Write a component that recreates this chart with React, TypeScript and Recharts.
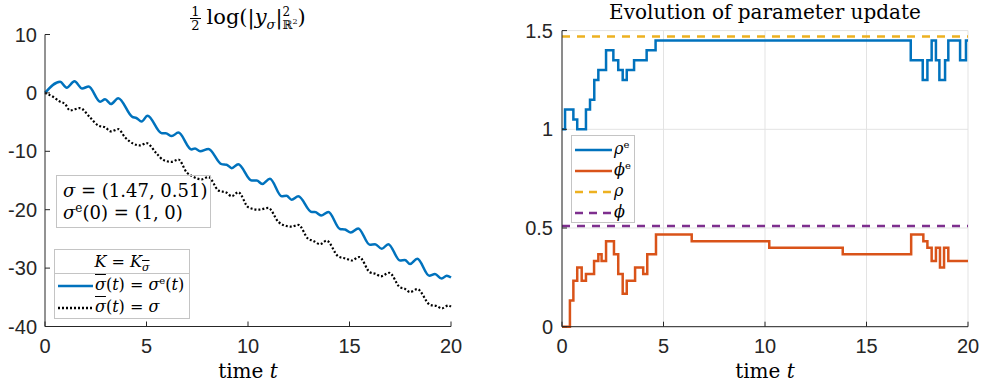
import { CartesianGrid, Line, LineChart, ReferenceLine, XAxis, YAxis } from "recharts";

// left panel: 1/2 log|y_sigma|^2 over time
const blueT = [0, 0.74, 1.07, 1.45, 1.83, 2.15, 2.72, 2.96, 3.25, 3.61, 4.3, 4.5, 4.76, 5.05, 5.75, 5.95, 6.24, 6.57, 7.22, 7.39, 7.64, 8.05, 8.7, 8.95, 9.2, 9.52, 10.18, 10.43, 10.7, 11.08, 11.66, 11.9, 12.15, 12.48, 13.14, 13.3, 13.6, 13.96, 14.53, 14.78, 15.06, 15.43, 16.0, 16.26, 16.59, 16.91, 17.49, 17.73, 17.98, 18.34, 18.93, 19.21, 19.54, 19.79, 20];
const blueY = [0, 1.9, 0.9, 2.0, 0.75, 1.1, -1.5, -1.1, -1.9, -0.9, -4.1, -4.3, -4.9, -3.9, -6.9, -6.9, -7.4, -6.8, -9.7, -9.5, -10.0, -9.6, -12.2, -12.3, -12.9, -12.2, -15.0, -15.0, -15.6, -14.7, -17.7, -17.6, -18.3, -17.7, -20.4, -20.4, -21.0, -20.4, -23.3, -23.4, -23.9, -23.2, -26.0, -25.9, -26.7, -25.9, -28.7, -28.6, -29.3, -28.4, -31.3, -31.0, -31.8, -31.3, -31.6];
const blackT = [0, 0.41, 0.74, 0.99, 1.23, 1.72, 2.22, 2.63, 2.96, 3.25, 3.61, 3.94, 4.35, 4.68, 5.0, 5.5, 5.83, 6.24, 6.57, 6.98, 7.22, 7.72, 8.05, 8.54, 8.95, 9.2, 9.52, 10.02, 10.51, 11.0, 11.5, 11.9, 12.15, 12.48, 12.97, 13.2, 13.55, 13.87, 14.45, 14.86, 15.1, 15.48, 16.0, 16.3, 16.55, 16.96, 17.49, 17.7, 17.98, 18.34, 18.97, 19.3, 19.54, 19.87, 20];
const blackY = [0, -0.7, -1.5, -1.9, -3.0, -2.6, -4.2, -5.6, -5.9, -6.6, -6.2, -7.6, -8.7, -9.0, -8.6, -10.4, -11.5, -11.8, -11.4, -13.6, -14.2, -14.8, -14.4, -16.7, -17.1, -17.7, -17.0, -19.6, -20.0, -19.7, -22.1, -22.8, -22.9, -22.6, -25.0, -25.3, -25.9, -25.3, -28.0, -28.4, -28.7, -28.1, -30.7, -31.0, -31.4, -30.8, -33.3, -33.5, -34.1, -33.6, -36.3, -36.5, -36.9, -36.4, -36.6];
const leftYTicks = [-40, -30, -20, -10, 0, 10];

// right panel: piecewise constant parameter estimates
const rhoT = [0, 0.15, 0.56, 0.75, 1.18, 1.38, 1.59, 1.79, 2.17, 2.53, 2.77, 2.99, 3.19, 3.55, 4.17, 4.61, 17.18, 17.77, 18.0, 18.21, 18.42, 18.59, 18.87, 19.03, 19.61, 19.9, 20];
const rhoV = [1.0, 1.1, 1.05, 1.0, 1.1, 1.15, 1.25, 1.3, 1.4, 1.35, 1.3, 1.25, 1.3, 1.35, 1.4, 1.45, 1.35, 1.25, 1.35, 1.45, 1.35, 1.25, 1.35, 1.45, 1.35, 1.45, 1.45];
const phiT = [0, 0.39, 0.56, 0.75, 0.97, 1.18, 1.58, 1.79, 1.95, 2.17, 2.56, 2.77, 2.99, 3.19, 3.6, 4.0, 4.2, 4.63, 6.39, 10.21, 13.83, 17.2, 17.8, 18.0, 18.21, 18.42, 18.62, 18.82, 19.03, 20];
const phiV = [0, 0.133, 0.233, 0.3, 0.233, 0.267, 0.333, 0.367, 0.333, 0.433, 0.367, 0.267, 0.167, 0.233, 0.3, 0.267, 0.367, 0.467, 0.433, 0.4, 0.367, 0.467, 0.433, 0.4, 0.333, 0.4, 0.3, 0.4, 0.333, 0.333];
const rhoTrue = 1.47;
const phiTrue = 0.51;
const rightYTicks = [0, 0.5, 1, 1.5];

const tTicks = [0, 5, 10, 15, 20];

const pts = (ts: number[], vs: number[]) => ts.map((t, i) => ({ t, v: vs[i] }));

const AX = "#262626";
const BLUE = "#0072BD";
const ORANGE = "#D95319";
const YELLOW = "#EDB120";
const PURPLE = "#7E2F8E";
const serif = "'DejaVu Serif', serif";
const tick = { fill: AX, fontSize: 20, fontFamily: "'Liberation Sans', Arial, sans-serif" };
const supS = { fontSize: 10, lineHeight: 0 };

function Sample({ color, dash, w = 37 }: { color: string; dash?: string; w?: number }) {
  return (
    <svg width={w} height={10} style={{ verticalAlign: "middle", marginRight: 2 }}>
      <line x1={0} y1={5} x2={w} y2={5} stroke={color} strokeWidth={2.5} strokeDasharray={dash} />
    </svg>
  );
}

const bar = (s: string) => <span style={{ textDecoration: "overline" }}>{s}</span>;

function LeftLegend() {
  const row = { height: 22, lineHeight: "22px", paddingLeft: 3, whiteSpace: "nowrap" as const, overflow: "hidden" };
  return (
    <div style={{ position: "absolute", left: 54, top: 249, width: 134, border: "1px solid #c4c4c4", background: "#fff", fontFamily: serif, fontSize: 16, color: "#000" }}>
      <div style={{ textAlign: "center", height: 23, lineHeight: "23px", borderBottom: "1px solid #c4c4c4" }}>
        <i>K</i> = <i>K</i>
        <sub style={{ fontSize: 11, lineHeight: 0 }}><i>{bar("σ")}</i></sub>
      </div>
      <div style={row}>
        <Sample color={BLUE} w={35} />
        <i>{bar("σ")}</i>(<i>t</i>) = <i>σ</i><sup style={supS}>e</sup>(<i>t</i>)
      </div>
      <div style={row}>
        <Sample color="#000" dash="2 2" w={35} />
        <i>{bar("σ")}</i>(<i>t</i>) = <i>σ</i>
      </div>
    </div>
  );
}

function RightLegend() {
  const rows = [
    { c: BLUE, d: undefined, l: <><i>ρ</i><sup style={supS}>e</sup></> },
    { c: ORANGE, d: undefined, l: <><i>ϕ</i><sup style={supS}>e</sup></> },
    { c: YELLOW, d: "8 6", l: <i>ρ</i> },
    { c: PURPLE, d: "8 6", l: <i>ϕ</i> },
  ];
  return (
    <div style={{ position: "absolute", left: 571, top: 135, width: 62, height: 84, border: "1px solid #c4c4c4", background: "#fff", fontFamily: serif, fontSize: 16, paddingTop: 2, color: "#000" }}>
      {rows.map((r, i) => (
        <div key={i} style={{ height: 21, lineHeight: "21px", paddingLeft: 3, whiteSpace: "nowrap" }}>
          <Sample color={r.c} dash={r.d} />
          {r.l}
        </div>
      ))}
    </div>
  );
}

export default function App() {
  return (
    <div style={{ position: "absolute", left: 0, top: 0, width: 984, height: 389, background: "#fff" }}>
      {/* left panel */}
      <div style={{ position: "absolute", left: 0, top: 0 }}>
        <LineChart width={470} height={389} margin={{ top: 34.5, right: 19, bottom: 32.5, left: 5 }}>
          <XAxis type="number" dataKey="t" domain={[0, 20]} ticks={tTicks} height={30} stroke={AX}
            tickSize={-5} tickMargin={17} tick={tick} allowDuplicatedCategory={false} />
          <YAxis type="number" dataKey="v" domain={[-40, 10]} ticks={leftYTicks} width={40} stroke={AX}
            tickSize={-5} tickMargin={13} tick={tick} />
          <Line data={pts(blueT, blueY)} dataKey="v" type="monotone" stroke={BLUE} strokeWidth={2.5}
            dot={false} isAnimationActive={false} />
          <Line data={pts(blackT, blackY)} dataKey="v" type="monotone" stroke="#000" strokeWidth={2.2}
            strokeDasharray="2 2" dot={false} isAnimationActive={false} />
        </LineChart>
      </div>
      <div style={{ position: "absolute", left: 0, top: 2, width: 496, textAlign: "center", fontFamily: serif, fontSize: 21, lineHeight: "30px", color: "#000" }}>
        <span style={{ display: "inline-block", verticalAlign: "middle", fontSize: 13, lineHeight: "13px", textAlign: "center", marginRight: 6 }}>
          <span style={{ display: "block", borderBottom: "1px solid #000", padding: "0 1px" }}>1</span>
          <span style={{ display: "block" }}>2</span>
        </span>
        log(|<i>y</i><sub style={{ fontSize: 13, lineHeight: 0 }}><i>σ</i></sub>|
        <span style={{ display: "inline-block", verticalAlign: "middle", fontSize: 12, lineHeight: "13px", textAlign: "left" }}>
          <span style={{ display: "block" }}>2</span>
          <span style={{ display: "block" }}>ℝ<sup style={{ fontSize: 8, lineHeight: 0 }}>2</sup></span>
        </span>)
      </div>
      <div style={{ position: "absolute", left: 56, top: 175, width: 155, height: 53, border: "1px solid #c4c4c4", fontFamily: serif, fontSize: 18, lineHeight: "22px", padding: "4px 0 0 6px", boxSizing: "border-box", color: "#000" }}>
        <div><i>σ</i> = (1.47, 0.51)</div>
        <div><i>σ</i><sup style={{ fontSize: 12, lineHeight: 0 }}>e</sup>(0) = (1, 0)</div>
      </div>
      <LeftLegend />
      <div style={{ position: "absolute", left: 0, top: 361, width: 496, textAlign: "center", fontFamily: serif, fontSize: 20, lineHeight: "20px" }}>
        time <i>t</i>
      </div>

      {/* right panel */}
      <div style={{ position: "absolute", left: 500, top: 0 }}>
        <LineChart width={484} height={389} margin={{ top: 30.6, right: 16, bottom: 32.3, left: 22 }}>
          <CartesianGrid stroke="#e3e3e3" />
          <XAxis type="number" dataKey="t" domain={[0, 20]} ticks={tTicks} height={30} stroke={AX}
            tickSize={-5} tickMargin={17} tick={tick} allowDuplicatedCategory={false} />
          <YAxis type="number" dataKey="v" domain={[0, 1.5]} ticks={rightYTicks} width={40} stroke={AX}
            tickSize={-5} tickMargin={14} tick={tick} />
          <ReferenceLine y={rhoTrue} stroke={YELLOW} strokeWidth={2.5} strokeDasharray="8 7" />
          <ReferenceLine y={phiTrue} stroke={PURPLE} strokeWidth={2.5} strokeDasharray="8 7" />
          <Line data={pts(rhoT, rhoV)} dataKey="v" type="stepAfter" stroke={BLUE} strokeWidth={2.5}
            dot={false} isAnimationActive={false} />
          <Line data={pts(phiT, phiV)} dataKey="v" type="stepAfter" stroke={ORANGE} strokeWidth={2.5}
            dot={false} isAnimationActive={false} />
        </LineChart>
      </div>
      <RightLegend />
      <div style={{ position: "absolute", left: 500, top: 2, width: 530, textAlign: "center", fontFamily: serif, fontSize: 20, lineHeight: "20px" }}>
        Evolution of parameter update
      </div>
      <div style={{ position: "absolute", left: 500, top: 361, width: 530, textAlign: "center", fontFamily: serif, fontSize: 20, lineHeight: "20px" }}>
        time <i>t</i>
      </div>
    </div>
  );
}
